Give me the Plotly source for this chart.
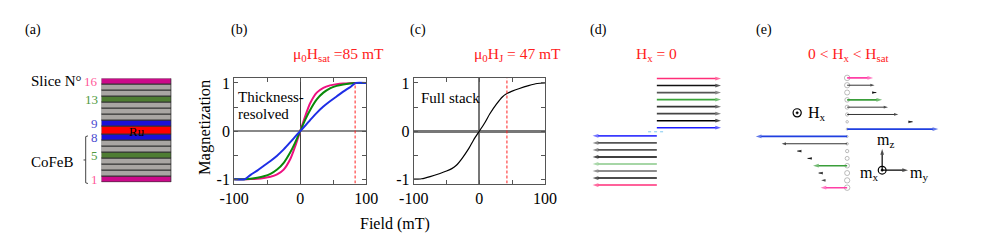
import plotly.graph_objects as go
import itertools

W, H = 981, 250
def px(x): return x / W
def py(y): return 1 - y / H

FONT = "Liberation Serif"
RED = "#ff2020"

# ---------------- data ----------------
# (b) thickness-resolved magnetization curves
field_b = [-100, -84, -75, -65, -55, -45, -35, -25, -15, -8, 0, 8, 15, 25, 35, 45, 55, 65, 75, 84, 100]
m_blue_pos = [0.12, 0.23, 0.38, 0.51, 0.62, 0.72, 0.82, 0.91, 1.0, 1.0]
m_green_pos = [0.25, 0.44, 0.66, 0.80, 0.89, 0.94, 0.97, 0.99, 1.0, 1.0]
m_mag_pos = [0.33, 0.58, 0.80, 0.90, 0.95, 0.975, 0.99, 0.997, 1.0, 1.0]
m_blue = [-v for v in m_blue_pos[::-1]] + [0] + m_blue_pos
m_green = [-v for v in m_green_pos[::-1]] + [0] + m_green_pos
m_mag = [-v for v in m_mag_pos[::-1]] + [0] + m_mag_pos
h_sat = 83

# (c) full stack curve
field_c = [-100, -88, -75, -60, -50, -42, -35, -26, -16, -9, 0, 9, 16, 26, 35, 42, 50, 60, 75, 88, 100]
m_full = [-1, -0.99, -0.945, -0.88, -0.83, -0.78, -0.71, -0.56, -0.36, -0.19, 0,
          0.19, 0.36, 0.56, 0.71, 0.78, 0.83, 0.88, 0.945, 0.99, 1]
h_j = 42

# tick values / labels
field_ticks = [-100, 0, 100]
field_labels = ["-100", "0", "100"]
field_minor = [-50, 50]
m_ticks = [-1, 0, 1]
m_labels = ["-1", "0", "1"]
m_minor = [-0.5, 0.5]

# (a) layer stack, bottom to top
layer_names = ['1', '2', '3', '4', '5', '6', '7', '8', 'Ru', '9', '10', '11', '12', '13', '14', '15', '16']
layer_thick = [1, 1, 1, 1, 1, 1, 1, 1, 1.45, 1, 1, 1, 1, 1, 1, 1, 1]
MAG, GRN, GRY, BLU = "#cc0a8a", "#4e7d32", "#a9a6a3", "#1a10d8"
layer_colors = [MAG, GRY, GRY, GRY, GRN, GRY, GRY, BLU, "#ff0000", BLU, GRY, GRY, GRY, GRN, GRY, GRY, MAG]
label_slices = ['16', '13', '9', '8', '5', '1']
label_colors = ["#ff5a9a", "#4e9a40", "#4a4ad0", "#4a4ad0", "#4e9a40", "#ff5a9a"]

# (d) Hx = 0 : slice index, my component
slices = list(range(1, 17))
d_my = [-1] * 8 + [1] * 8
d_colors = ["#ff2d78", "#111111", "#666666", "#88c888", "#000000", "#555555", "#555555", "#3a3aff",
            "#1a1aff", "#000000", "#444444", "#333333", "#3aa53a", "#555555", "#111111", "#ff2d78"]

# (e) 0 < Hx < Hsat : arrow tail / head (my), colour, width, mx circle size
e_tail = [0, -0.238, -0.277, 0, -0.390, -0.504, 0, 0, 0, 0.673, 0, 0, 0, 0.277, 0, 0]
e_head = [-0.291, -0.284, -0.312, -0.373, -0.433, -0.546, -0.716, -1.0,
          0.997, 0.716, 0.56, 0.447, 0.383, 0.319, 0.30, 0.284]
e_colors = ["#ff3fa6", "#000", "#000", "#3a9e3a", "#000", "#000", "#000", "#1f3fe0",
            "#1f3fe0", "#000", "#000", "#000", "#3a9e3a", "#000", "#000", "#ff3fa6"]
e_width = [1.6, 0.8, 0.8, 1.6, 0.8, 0.8, 0.8, 1.8, 1.8, 0.8, 0.8, 0.8, 1.6, 0.8, 0.8, 1.6]
e_mx = [5.5, 5.3, 5.0, 4.6, 4.0, 3.3, 2.5, 2.0, 2.0, 2.5, 3.3, 4.0, 4.6, 5.0, 5.3, 5.5]

# row positions
d_row = [s if s <= 8 else s + 0.16 for s in slices]
e_row = slices

fig = go.Figure()

def arrow(x0, x1, y0, y1, color, width, head, xa, ya):
    fig.add_trace(go.Scatter(x=[x0, x1], y=[y0, y1], mode="lines+markers",
                             line=dict(color=color, width=width),
                             marker=dict(symbol="arrow", angleref="previous", size=[0, head], color=color,
                                         line=dict(width=0)),
                             xaxis=xa, yaxis=ya, showlegend=False, hoverinfo="skip", cliponaxis=False))

# ---------------- (a) ----------------
bases = [0] + list(itertools.accumulate(layer_thick))[:-1]
fig.add_trace(go.Bar(x=[0.5] * len(layer_thick), y=layer_thick, base=bases, width=1,
                     marker=dict(color=layer_colors, line=dict(color="#333333", width=1)),
                     xaxis="x3", yaxis="y3", showlegend=False, hoverinfo="skip"))

# ---------------- (b) ----------------
for m, c in [(m_mag, "#ee1080"), (m_green, "#0a8a0a"), (m_blue, "#1e2ee6")]:
    fig.add_trace(go.Scatter(x=field_b, y=m, mode="lines", line=dict(color=c, width=2, shape="spline", smoothing=0.7),
                             xaxis="x", yaxis="y", showlegend=False, hoverinfo="skip"))
fig.add_trace(go.Scatter(x=[h_sat, h_sat], y=[-1.089, 1.0], mode="lines", hoverinfo="skip",
                         line=dict(color=RED, width=1, dash="3px,2px"), xaxis="x", yaxis="y", showlegend=False))
arrow(h_sat, h_sat, 1.33, 1.115, RED, 1.2, 6, "x", "y")

# ---------------- (c) ----------------
fig.add_trace(go.Scatter(x=field_c, y=m_full, mode="lines", hoverinfo="skip",
                         line=dict(color="black", width=1.2, shape="spline", smoothing=0.7),
                         xaxis="x2", yaxis="y2", showlegend=False))
fig.add_trace(go.Scatter(x=[h_j, h_j], y=[-1.089, 1.101], mode="lines", hoverinfo="skip",
                         line=dict(color=RED, width=1, dash="3px,2px"), xaxis="x2", yaxis="y2", showlegend=False))
arrow(h_j, h_j, 1.33, 1.115, RED, 1.2, 6, "x2", "y2")

# ---------------- (d) ----------------
fig.add_trace(go.Scatter(x=[-0.136, 0.136], y=[8.58, 8.58], mode="lines", hoverinfo="skip",
                         line=dict(color="#7ec8f0", width=1, dash="dot"), xaxis="x4", yaxis="y4", showlegend=False))
for r, my, c in zip(d_row, d_my, d_colors):
    arrow(0, my, r, r, c, 1.6, 6, "x4", "y4")

# ---------------- (e) ----------------
fig.add_trace(go.Scatter(x=[0] * 16, y=e_row, mode="markers",
                         marker=dict(symbol="circle-open", size=e_mx, color="#888888", line=dict(width=0.8)),
                         xaxis="x5", yaxis="y5", showlegend=False, hoverinfo="skip"))
for r, t0, t1, c, w in zip(e_row, e_tail, e_head, e_colors, e_width):
    arrow(t0, t1, r, r, c, w, 6 if w > 1 else 4.5, "x5", "y5")
# coordinate frame (my right, mz up)
frame_origin = (0.383, 3.39)
arrow(frame_origin[0], 0.666, frame_origin[1], frame_origin[1], "black", 1.2, 6, "x5", "y5")
arrow(frame_origin[0], frame_origin[0], frame_origin[1], 6.27, "black", 1.2, 6, "x5", "y5")

ann = []
def txt(x, y, t, size=15, color="black", xanchor="center", **kw):
    ann.append(dict(x=px(x), y=py(y), xref="paper", yref="paper", text=t, showarrow=False,
                    font=dict(family=FONT, size=size, color=color), xanchor=xanchor, yanchor="middle", **kw))

# panel letters
for lab, x in [("(a)", 19), ("(b)", 230.5), ("(c)", 414.5), ("(d)", 600.5), ("(e)", 770.5)]:
    txt(x, 28, lab, size=14)

# (a) texts
txt(71, 80.7, "Slice N°", size=15, xanchor="right")
txt(62.5, 163.3, "CoFeB", size=15, xanchor="right")
layer_center = {n: b + t / 2 for n, b, t in zip(layer_names, bases, layer_thick)}
for s, c in zip(label_slices, label_colors):
    ann.append(dict(x=px(87), y=layer_center[s], xref="paper", yref="y3", text=s, showarrow=False,
                    font=dict(family=FONT, size=13, color=c), xanchor="right", yanchor="middle"))
ann.append(dict(x=0.5, y=layer_center['Ru'] - 0.15, xref="x3", yref="y3", text="Ru", showarrow=False,
                font=dict(family=FONT, size=13, color="black"), xanchor="center", yanchor="middle"))

# (b),(c) texts
txt(227, 96.7, "Thickness-", size=15, xanchor="left")
txt(227, 114, "resolved", size=15, xanchor="left")
txt(415, 97.3, "Full stack", size=15, xanchor="left")
txt(195, 128, "Magnetization", size=16.5, textangle=-90)
txt(391, 227, "Field (mT)", size=16)
txt(333, 53.3, "μ<sub>0</sub>H<sub>sat</sub> =85 mT", size=15.5, color=RED)
txt(517, 53.3, "μ<sub>0</sub>H<sub>J</sub> = 47 mT", size=15.5, color=RED)

# (d),(e) titles
txt(660, 53.3, "H<sub>x</sub> = 0", size=15.5, color=RED)
txt(857, 53.3, "0 &lt; H<sub>x</sub> &lt; H<sub>sat</sub>", size=15.5, color=RED)

# (e) labels
txt(813, 114, "H<sub>x</sub>", size=16, xanchor="left")
txt(895, 141, "m<sub>z</sub>", size=16)
txt(930, 175, "m<sub>y</sub>", size=16)
txt(878, 175, "m<sub>x</sub>", size=16)

shapes = []
def circ(cx, cy, r, fill=None, lw=1.2):
    shapes.append(dict(type="circle", xref="paper", yref="paper", x0=px(cx - r), x1=px(cx + r),
                       y0=py(cy + r), y1=py(cy - r), line=dict(color="black", width=lw),
                       fillcolor=fill if fill else "rgba(0,0,0,0)"))
circ(804.3, 113, 4.2)
circ(804.3, 113, 1.2, fill="black", lw=0.5)
circ(891.7, 172, 4.0)
circ(891.7, 172, 1.2, fill="black", lw=0.5)

# bracket in (a)
def path(pts):
    return "M " + " L ".join(f"{px(x)},{py(y)}" for x, y in pts)
shapes.append(dict(type="path", xref="paper", yref="paper",
                   path=path([(75, 136.7), (72.7, 137.5), (72.7, 185), (75, 185.7)]),
                   line=dict(color="#444", width=1)))
shapes.append(dict(type="path", xref="paper", yref="paper",
                   path=path([(72.7, 161.5), (70.5, 161.5)]), line=dict(color="#444", width=1)))

axis_common = dict(showline=True, linecolor="#555555", linewidth=1, mirror="ticks", ticks="inside",
                   ticklen=4, tickcolor="#555555", showgrid=False,
                   tickfont=dict(family=FONT, size=16, color="black"), zeroline=True)
yb = [0.2572, 0.6908]
xminor = dict(tickvals=field_minor, ticks="inside", ticklen=4, tickcolor="#555555", showgrid=False)
yminor = dict(tickvals=m_minor, ticks="inside", ticklen=4, tickcolor="#555555", showgrid=False)
fig.update_layout(
    width=W, height=H, margin=dict(l=0, r=0, t=0, b=0),
    paper_bgcolor="white", plot_bgcolor="white", hovermode=False,
    xaxis=dict(domain=[px(225.3), px(361.3)], range=[-100, 100], anchor="y",
               tickvals=field_ticks, ticktext=field_labels,
               minor=xminor, zerolinecolor="#444444", zerolinewidth=1, **axis_common),
    yaxis=dict(domain=yb, range=[-1.089, 1.101], anchor="x", tickvals=m_ticks, ticktext=m_labels,
               minor=yminor, zerolinecolor="#888888", zerolinewidth=1.5, **axis_common),
    xaxis2=dict(domain=[px(410), px(545)], range=[-100, 100], anchor="y2",
                tickvals=field_ticks, ticktext=field_labels,
                minor=xminor, zerolinecolor="#777777", zerolinewidth=1.5, **axis_common),
    yaxis2=dict(domain=yb, range=[-1.089, 1.101], anchor="x2", tickvals=m_ticks, ticktext=m_labels,
                minor=yminor, zerolinecolor="#777777", zerolinewidth=2.5, **axis_common),
    xaxis3=dict(domain=[px(89), px(161)], range=[0, 1], anchor="y3", visible=False),
    yaxis3=dict(domain=[py(184.3), py(77.7)], range=[0, sum(layer_thick)], anchor="x3", visible=False),
    xaxis4=dict(domain=[px(560), px(760)], range=[-1.515, 1.515], anchor="y4", visible=False),
    yaxis4=dict(domain=[py(194.53), py(64.4)], range=[0, 18], anchor="x4", visible=False),
    xaxis5=dict(domain=[px(740), px(981)], range=[-1.231, 1.333], anchor="y5", visible=False),
    yaxis5=dict(domain=[py(197.53), py(61.99)], range=[0, 18], anchor="x5", visible=False),
    annotations=ann, shapes=shapes, bargap=0,
)

fig.write_html("out.html", config={"displayModeBar": False},
               post_script="document.body.style.margin='0';")
